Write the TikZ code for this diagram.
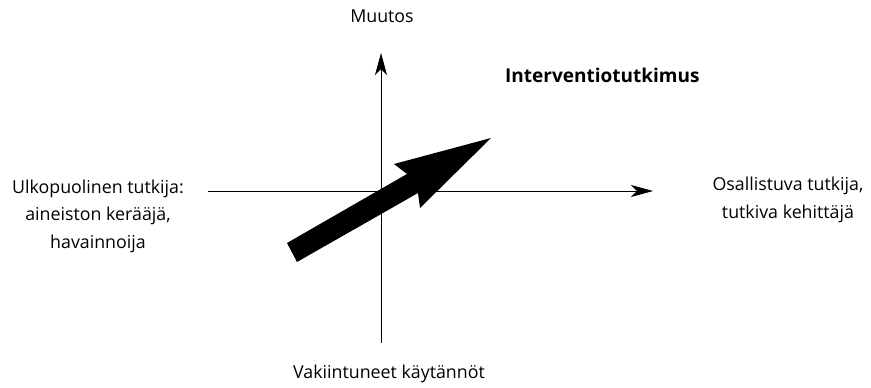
\documentclass[tikz,border=0pt]{standalone}
\usepackage{fontspec}
\setmainfont{Open Sans}
\usetikzlibrary{arrows.meta}

\begin{document}
\begin{tikzpicture}[
  x=1pt, y=-1pt,
  font=\fontsize{17.8}{27.5}\selectfont,
  lbl/.style={align=center, inner sep=0pt, anchor=base},
  axis/.style={line width=0.8pt, -{Stealth[length=22pt, width=12pt, inset=6pt]}}]
  \useasboundingbox (0,0) rectangle (871,388);
  % axes
  \coordinate (vbot) at (381,343);
  \coordinate (vtop) at (381,53);
  \coordinate (hleft) at (208,191);
  \coordinate (hright) at (653,191);
  \draw[axis] (vbot) -- (vtop);
  \draw[axis] (hleft) -- (hright);
  % labels (base = last line)
  \node[lbl] (muutos) at (382,22) {Muutos};
  \node[lbl] (vakiint) at (389,378) {Vakiintuneet käytännöt};
  \node[lbl] (ulko) at (98,248) {Ulkopuolinen tutkija:\\ aineiston kerääjä,\\ havainnoija};
  \node[lbl] (osall) at (788,218) {Osallistuva tutkija,\\ tutkiva kehittäjä};
  \node[lbl, anchor=base west, font=\fontsize{19}{27.5}\selectfont\bfseries] (interv) at (505,82) {Interventiotutkimus};
  % big arrow
  \fill (287,243) -- (407,174) -- (394,164) -- (491,138) -- (420,208) -- (418,193) -- (297,262) -- cycle;
\end{tikzpicture}
\end{document}
